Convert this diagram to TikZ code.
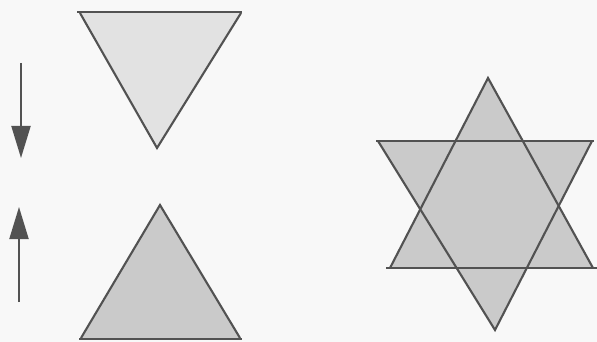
\documentclass[tikz,border=0pt]{standalone}
\usepackage{xcolor}
\usepackage{tikz}
\usetikzlibrary{arrows.meta}
\definecolor{hexLine}{RGB}{82,82,82}
\definecolor{hexLight}{RGB}{226,226,226}
\definecolor{hexMid}{RGB}{202,202,202}
\definecolor{hexPaper}{RGB}{248,248,248}

\begin{document}
\begin{tikzpicture}[x=1pt,y=-1pt,
    edge/.style={hexLine, line width=2.1pt, line join=miter},
    push/.style={hexLine, line width=2pt, -{Triangle[length=32pt,width=19pt]}}]
    % paper
    \fill[hexPaper] (0,0) rectangle (597,342);
    \useasboundingbox (0,0) rectangle (597,342);

    % arrows
    \coordinate (downtail) at (21,63);
    \coordinate (downtip) at (21,158);
    \coordinate (uptail) at (19,302);
    \coordinate (uptip) at (19,207);
    \draw[push] (downtail) -- (downtip);
    \draw[push] (uptail) -- (uptip);

    % triangle pointing down
    \fill[hexLight] (80,13) -- (240,13) -- (157,148) -- cycle;
    \draw[edge] (241,13) -- (157,148) -- (80,13);
    \draw[edge] (77,12) -- (242,12);

    % triangle pointing up
    \fill[hexMid] (160,205) -- (240,338) -- (81,338) -- cycle;
    \draw[edge] (81,338) -- (160,205) -- (240,338);
    \draw[edge] (79,339) -- (242,339);

    % star of the two triangles
    \fill[hexMid] (488,78) -- (593,268) -- (390,268) -- cycle;
    \fill[hexMid] (378,141) -- (592,141) -- (495,330) -- cycle;
    \draw[edge] (390,268) -- (488,78) -- (593,268);
    \draw[edge] (378,141) -- (495,330) -- (592,141);
    \draw[edge] (376,141) -- (594,141);
    \draw[edge] (386,268) -- (597,268);
\end{tikzpicture}
\end{document}
